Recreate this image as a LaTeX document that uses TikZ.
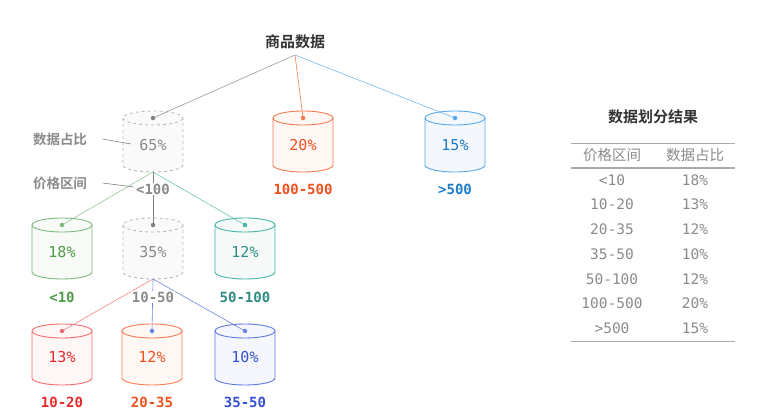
\documentclass[tikz,border=0pt]{standalone}
\usepackage{fontspec}
\setmonofont{DejaVu Sans Mono}
\newfontfamily\cjk{Noto Sans CJK SC}
\newfontfamily\cjkbold{Noto Sans CJK SC Bold}
\usetikzlibrary{calc}

% palette
\definecolor{ink}{HTML}{333333}
\definecolor{greyline}{HTML}{BBBBBB}
\definecolor{greyfill}{HTML}{FAFAFA}
\definecolor{greytext}{HTML}{8A8A8A}
\definecolor{greydot}{HTML}{808080}
\definecolor{orline}{HTML}{F57A4F}
\definecolor{orfill}{HTML}{FFF7F4}
\definecolor{ortext}{HTML}{F0501E}
\definecolor{blline}{HTML}{55A8EC}
\definecolor{blfill}{HTML}{F4F8FD}
\definecolor{bltext}{HTML}{1E7CCB}
\definecolor{grline}{HTML}{7DB87D}
\definecolor{grfill}{HTML}{F7FAF7}
\definecolor{grtext}{HTML}{4F9A45}
\definecolor{tlline}{HTML}{45B5A5}
\definecolor{tlfill}{HTML}{F5FAF9}
\definecolor{tltext}{HTML}{2E8C82}
\definecolor{rdline}{HTML}{F26B6B}
\definecolor{rdfill}{HTML}{FFF6F6}
\definecolor{rdtext}{HTML}{E42A2A}
\definecolor{inline}{HTML}{5A78E2}
\definecolor{infill}{HTML}{F5F7FD}
\definecolor{intext}{HTML}{3550CF}
\definecolor{indot}{HTML}{6A84E4}
\definecolor{rule}{HTML}{AAAAAA}

% drum: name, centre x, top y, edge colour, fill colour, extra line style
\newcommand\drum[6]{%
  \begin{scope}[shift={(#2,#3)}]
    \filldraw[draw=#4, fill=#5, line width=0.9pt, #6]
      (-30,0) -- (-30,-47) arc[start angle=180, end angle=360, x radius=30, y radius=7]
      -- (30,0) arc[start angle=0, end angle=180, x radius=30, y radius=7] -- cycle;
    \draw[#4, line width=0.9pt, #6]
      (-30,0) arc[start angle=180, end angle=360, x radius=30, y radius=7];
  \end{scope}
  \coordinate (#1-top) at (#2,#3);
  \coordinate (#1-bot) at ($(#2,#3)+(0,-54)$);
}

\tikzset{
  pct/.style={font=\ttfamily\fontsize{15}{15}\selectfont},
  rng/.style={font=\ttfamily\bfseries\fontsize{14}{14}\selectfont, fill=white, inner sep=1pt},
  edge/.style={line width=0.6pt},
  dot/.style={circle, inner sep=0pt, minimum size=4.5pt},
  note/.style={font=\cjkbold\fontsize{13.5}{13.5}\selectfont, text=greytext},
  cell/.style={font=\ttfamily\fontsize{14.5}{14.5}\selectfont, text=greytext},
}

\begin{document}
\begin{tikzpicture}[x=1pt, y=1pt]
\useasboundingbox (0,0) rectangle (764,-417);

% root
\node[font=\cjkbold\fontsize{15}{15}\selectfont, text=ink] (root) at (295,-42) {商品数据};
\coordinate (root-out) at (295,-55);

% drums
\drum{d65}{153}{-118}{greyline}{greyfill}{dashed}
\drum{d20}{303}{-118}{orline}{orfill}{}
\drum{d15}{455}{-118}{blline}{blfill}{}
\drum{d18}{62}{-225}{grline}{grfill}{}
\drum{d35}{153}{-225}{greyline}{greyfill}{dashed}
\drum{d12a}{245}{-225}{tlline}{tlfill}{}
\drum{d13}{62}{-331}{rdline}{rdfill}{}
\drum{d12b}{152}{-331}{orline}{orfill}{}
\drum{d10}{245}{-331}{inline}{infill}{}

% connectors
\draw[edge, greydot!80] (root-out) -- (d65-top);
\draw[edge, orline] (root-out) -- (d20-top);
\draw[edge, blline!80] (root-out) -- (d15-top);
\draw[edge, grline!80] (d65-bot) -- (d18-top);
\draw[edge, greydot] (d65-bot) -- (d35-top);
\draw[edge, tlline!80] (d65-bot) -- (d12a-top);
\draw[edge, rdline!85] (d35-bot) -- (d13-top);
\draw[edge, indot] (d35-bot) -- (d12b-top);
\draw[edge, indot] (d35-bot) -- (d10-top);

% dots on the lids
\node[dot, fill=greydot] at (d65-top) {};
\node[dot, fill=orline] at (d20-top) {};
\node[dot, fill=blline] at (d15-top) {};
\node[dot, fill=grline] at (d18-top) {};
\node[dot, fill=greydot] at (d35-top) {};
\node[dot, fill=tlline] at (d12a-top) {};
\node[dot, fill=rdline] at (d13-top) {};
\node[dot, fill=indot] at (d12b-top) {};
\node[dot, fill=indot] at (d10-top) {};

% percentages
\node[pct, text=greytext] (p65) at (153,-145) {65\%};
\node[pct, text=ortext] (p20) at (303,-145) {20\%};
\node[pct, text=bltext] (p15) at (455,-145) {15\%};
\node[pct, text=grtext] (p18) at (62,-252) {18\%};
\node[pct, text=greytext] (p35) at (153,-252) {35\%};
\node[pct, text=tltext] (p12a) at (245,-252) {12\%};
\node[pct, text=rdtext] (p13) at (62,-357) {13\%};
\node[pct, text=ortext] (p12b) at (152,-357) {12\%};
\node[pct, text=intext] (p10) at (245,-357) {10\%};

% price ranges
\node[rng, text=greytext] (r100) at (153,-189) {<100};
\node[rng, text=ortext] (r500) at (303,-189) {100-500};
\node[rng, text=bltext] (rgt) at (455,-189) {>500};
\node[rng, text=grtext] (r10) at (62,-297) {<10};
\node[rng, text=greytext] (r50) at (153,-297) {10-50};
\node[rng, text=tltext] (r50100) at (245,-297) {50-100};
\node[rng, text=rdtext] (r1020) at (62,-402) {10-20};
\node[rng, text=ortext] (r2035) at (152,-402) {20-35};
\node[rng, text=intext] (r3550) at (245,-402) {35-50};

% side notes
\node[note] (n1) at (60,-139) {数据占比};
\coordinate (n1-end) at (131,-144);
\draw[edge, greydot] (n1.east) ++(12,0) -- (n1-end);
\node[note] (n2) at (60,-183) {价格区间};
\coordinate (n2-end) at (134,-187);
\draw[edge, greydot] (n2.east) ++(12,0) -- (n2-end);

% summary table
\node[font=\cjkbold\fontsize{15}{15}\selectfont, text=ink] (ttl) at (653,-117) {数据划分结果};
\coordinate (t1a) at (571,-143); \coordinate (t1b) at (735,-143);
\coordinate (t2a) at (571,-168); \coordinate (t2b) at (735,-168);
\coordinate (t3a) at (571,-341); \coordinate (t3b) at (735,-341);
\draw[rule, line width=0.8pt] (t1a) -- (t1b);
\draw[rule, line width=1.1pt] (t2a) -- (t2b);
\draw[rule, line width=0.8pt] (t3a) -- (t3b);
\node[font=\cjk\fontsize{14.5}{14.5}\selectfont, text=greytext] (h1) at (612,-155) {价格区间};
\node[font=\cjk\fontsize{14.5}{14.5}\selectfont, text=greytext] (h2) at (695,-155) {数据占比};
\foreach \a/\b [count=\i] in {<10/18, 10-20/13, 20-35/12, 35-50/10, 50-100/12, 100-500/20, >500/15} {
  \node[cell] (ra\i) at (612,{-180-24.7*(\i-1)}) {\a};
  \node[cell] (rb\i) at (695,{-180-24.7*(\i-1)}) {\b\%};
}
\end{tikzpicture}
\end{document}
